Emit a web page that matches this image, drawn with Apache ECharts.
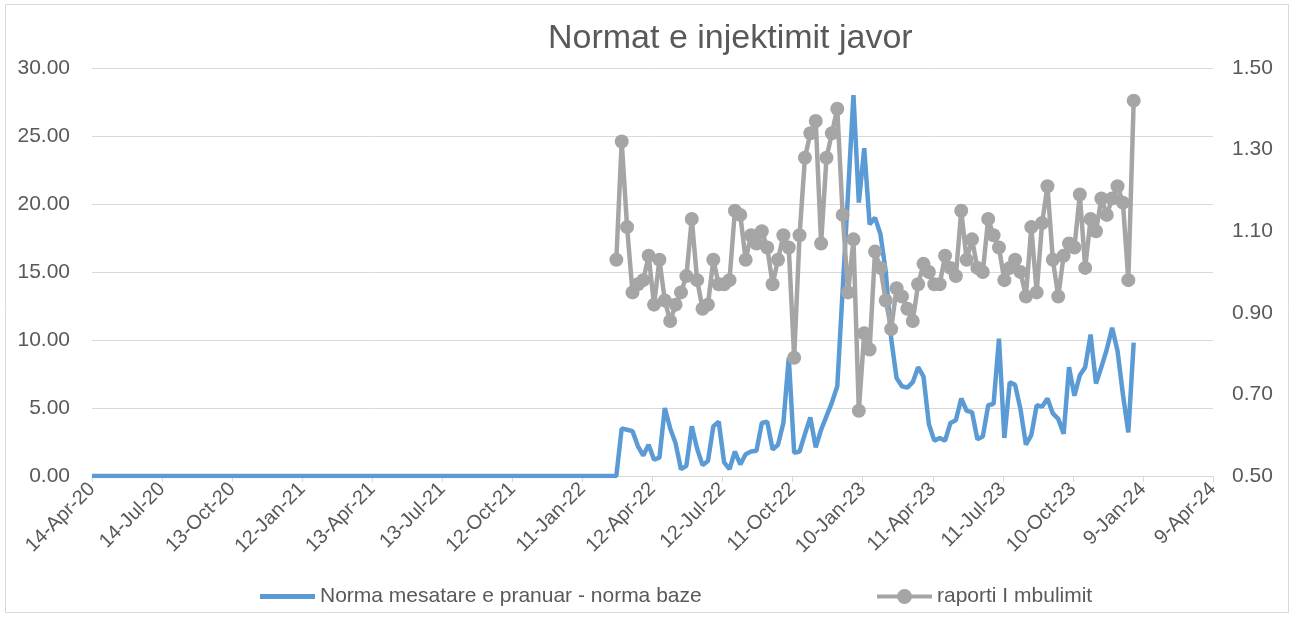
<!DOCTYPE html>
<html lang="en">
<head>
<meta charset="UTF-8">
<title>Normat e injektimit javor</title>
<script src="https://cdn.jsdelivr.net/npm/echarts@6/dist/echarts.min.js"></script>
</head>
<body style="margin:0;background:#fff;">

<div id="wrap" style="width:1294px;height:617px;"></div>

<script>
    // axis range and first weekly observation
    var axisStart = '2020-04-14';
    var axisEnd = '2024-04-09';
    var firstWeek = '2022-02-24';

    // Norma mesatare e pranuar - norma baze (left axis), one value per week from firstWeek
    var normaBaze = [
        0, 3.5, 3.4, 3.3, 2.2, 1.5, 2.3, 1.2, 1.35, 5.0,
        3.5, 2.4, 0.5, 0.75, 3.65, 2.0, 0.8, 1.1, 3.65, 4.0,
        1.0, 0.5, 1.8, 0.85, 1.6, 1.8, 1.85, 3.9, 4.0, 1.95,
        2.3, 3.9, 8.7, 1.7, 1.8, 3.1, 4.3, 2.1, 3.4, 4.4,
        5.4, 6.6, 13.7, 20.8, 28.0, 20.1, 24.1, 18.5, 19.0, 17.8,
        15.0, 10.1, 7.2, 6.6, 6.5, 6.9, 8.0, 7.3, 3.8, 2.6,
        2.8, 2.6, 3.9, 4.1, 5.7, 4.8, 4.7, 2.7, 2.9, 5.2,
        5.3, 10.1, 2.8, 6.9, 6.7, 4.9, 2.3, 3.0, 5.2, 5.1,
        5.7, 4.6, 4.2, 3.1, 8.0, 5.9, 7.4, 8.0, 10.4, 6.8,
        8.0, 9.3, 10.9, 9.2, 6.0, 3.2, 9.8
    ];

    // raporti I mbulimit (right axis), same weeks
    var raporti = [
        1.03, 1.32, 1.11, 0.95, 0.97, 0.98, 1.04, 0.92, 1.03, 0.93,
        0.88, 0.92, 0.95, 0.99, 1.13, 0.98, 0.91, 0.92, 1.03, 0.97,
        0.97, 0.98, 1.15, 1.14, 1.03, 1.09, 1.07, 1.10, 1.06, 0.97,
        1.03, 1.09, 1.06, 0.79, 1.09, 1.28, 1.34, 1.37, 1.07, 1.28,
        1.34, 1.40, 1.14, 0.95, 1.08, 0.66, 0.85, 0.81, 1.05, 1.01,
        0.93, 0.86, 0.96, 0.94, 0.91, 0.88, 0.97, 1.02, 1.00, 0.97,
        0.97, 1.04, 1.01, 0.99, 1.15, 1.03, 1.08, 1.01, 1.00, 1.13,
        1.09, 1.06, 0.98, 1.01, 1.03, 1.00, 0.94, 1.11, 0.95, 1.12,
        1.21, 1.03, 0.94, 1.04, 1.07, 1.06, 1.19, 1.01, 1.13, 1.10,
        1.18, 1.14, 1.18, 1.21, 1.17, 0.98, 1.42
    ];

    var seriesNames = ['Norma mesatare e pranuar - norma baze', 'raporti I mbulimit'];
    var months = ['Jan', 'Feb', 'Mar', 'Apr', 'May', 'Jun', 'Jul', 'Aug', 'Sep', 'Oct', 'Nov', 'Dec'];

    var DAY = 86400000;
    var t0 = Date.parse(axisStart);
    function dayOf(s) {
        return Math.round((Date.parse(s) - t0) / DAY);
    }
    function fmtDay(d) {
        var dt = new Date(t0 + d * DAY);
        return dt.getUTCDate() + '-' + months[dt.getUTCMonth()] + '-' + String(dt.getUTCFullYear()).slice(2);
    }

    var start = dayOf(firstWeek);
    var blueData = [[0, 0]]; // the blue series sits at zero from the start of the axis
    var grayData = [];
    for (var i = 0; i < normaBaze.length; i++) {
        blueData.push([start + 7 * i, normaBaze[i]]);
        grayData.push([start + 7 * i, raporti[i]]);
    }

    var textColor = '#595959';
    var gridColor = '#d9d9d9';
    var blue = '#5B9BD5';
    var gray = '#A5A5A5';
    var font = '"Liberation Sans", Arial, sans-serif';

    // legend icons: plain thick line, and thick line with a dot in the middle
    var lineIcon = 'path://M0,0 L55,0 L55,5 L0,5 Z';
    var dotLineIcon = 'path://M0,5.5 L55,5.5 L55,9.5 L0,9.5 Z M20,7.5 A7.5,7.5 0 1 1 35,7.5 A7.5,7.5 0 1 1 20,7.5 Z';

    var myChart = echarts.init(document.getElementById('wrap'));

    var option = {
        animation: false,
        backgroundColor: '#fff',
        textStyle: {fontFamily: font},
        title: {
            text: 'Normat e injektimit javor',
            left: 543,
            top: 17,
            textStyle: {fontFamily: font, fontSize: 34, fontWeight: 'normal', color: textColor}
        },
        graphic: [{
            type: 'rect',
            shape: {x: 5.5, y: 4.5, width: 1283, height: 608},
            style: {fill: null, stroke: gridColor, lineWidth: 1},
            silent: true
        }],
        legend: [{
            data: [{name: seriesNames[0], icon: lineIcon, itemStyle: {color: blue}}],
            left: 255,
            top: 581,
            itemWidth: 55,
            itemHeight: 5,
            textStyle: {fontFamily: font, fontSize: 21, color: textColor}
        }, {
            data: [{name: seriesNames[1], icon: dotLineIcon, itemStyle: {color: gray}}],
            left: 872,
            top: 581,
            itemWidth: 55,
            itemHeight: 15,
            textStyle: {fontFamily: font, fontSize: 21, color: textColor}
        }],
        grid: {left: 92, right: 81, top: 68, bottom: 141},
        xAxis: {
            type: 'value',
            min: 0,
            max: dayOf(axisEnd),
            interval: 91,
            axisLine: {lineStyle: {color: gridColor, width: 1}},
            axisTick: {show: true, length: 6, lineStyle: {color: gridColor}},
            splitLine: {show: false},
            axisLabel: {
                rotate: 45,
                margin: 10,
                fontSize: 20,
                color: textColor,
                formatter: fmtDay
            }
        },
        yAxis: [{
            type: 'value',
            min: 0,
            max: 30,
            interval: 5,
            axisLine: {show: false},
            axisTick: {show: false},
            splitLine: {lineStyle: {color: gridColor, width: 1}},
            axisLabel: {
                margin: 22,
                fontSize: 21,
                color: textColor,
                formatter: function (v) { return v.toFixed(2); }
            }
        }, {
            type: 'value',
            position: 'right',
            min: 0.5,
            max: 1.5,
            interval: 0.2,
            axisLine: {show: false},
            axisTick: {show: false},
            splitLine: {show: false},
            axisLabel: {
                margin: 19,
                fontSize: 21,
                color: textColor,
                formatter: function (v) { return v.toFixed(2); }
            }
        }],
        series: [{
            name: seriesNames[0],
            type: 'line',
            yAxisIndex: 0,
            symbol: 'none',
            data: blueData,
            itemStyle: {color: blue},
            lineStyle: {color: blue, width: 4.5}
        }, {
            name: seriesNames[1],
            type: 'line',
            yAxisIndex: 1,
            symbol: 'circle',
            symbolSize: 14,
            data: grayData,
            itemStyle: {color: gray},
            lineStyle: {color: gray, width: 4.5}
        }]
    };

    myChart.setOption(option);
</script>
</body>
</html>
